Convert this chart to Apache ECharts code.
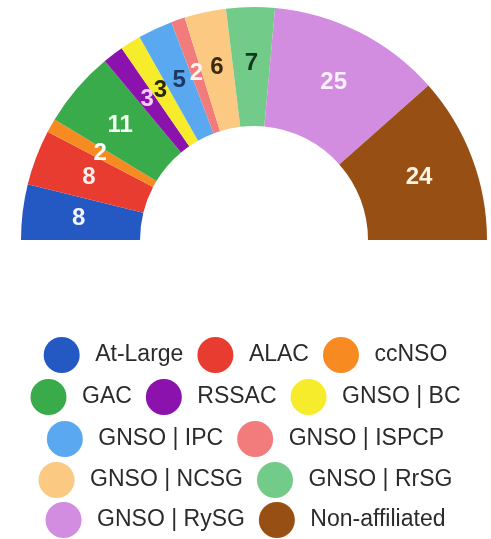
<!DOCTYPE html>
<html>
<head>
<meta charset="utf-8">
<script src="https://cdn.jsdelivr.net/npm/echarts@6/dist/echarts.min.js"></script>
<style>
  html, body { margin: 0; padding: 0; background: #fff; }
  #halfPie { width: 491px; height: 539px; }
</style>
</head>
<body>
<div id="halfPie"></div>
<script>
const groups = ['At-Large', 'ALAC', 'ccNSO', 'GAC', 'RSSAC', 'GNSO | BC', 'GNSO | IPC',
  'GNSO | ISPCP', 'GNSO | NCSG', 'GNSO | RrSG', 'GNSO | RySG', 'Non-affiliated']
const counts = [8, 8, 2, 11, 3, 3, 5, 2, 6, 7, 25, 24]
const colors = ['#2459c4', '#e83c31', '#f78b22', '#3aab4b', '#8b12ad', '#f7ec2c', '#5aa9f0',
  '#f27c7c', '#fcc983', '#72cb89', '#d28de0', '#984f14']
const labelColors = ['#f4f4ff', '#fff0ee', '#ffffff', '#f4fff4', '#f3d0f5', '#2b2a05', '#1b3866',
  '#fff4f4', '#3a2a10', '#123a1c', '#fbf0ff', '#fff3e0']
// rows of the legend as they appear under the chart
const legendRows = [
  ['At-Large', 'ALAC', 'ccNSO'],
  ['GAC', 'RSSAC', 'GNSO | BC'],
  ['GNSO | IPC', 'GNSO | ISPCP'],
  ['GNSO | NCSG', 'GNSO | RrSG'],
  ['GNSO | RySG', 'Non-affiliated']
]

const font = "'Liberation Sans', Arial, sans-serif"
let chartInstance = echarts.init(document.getElementById('halfPie'))

const rowTops = [337, 379, 421, 462, 502]
const legends = legendRows.map((row, i) => ({
  data: row,
  top: rowTops[i],
  left: 'center',
  orient: 'horizontal',
  padding: 0,
  itemGap: 14,
  itemWidth: 37,
  itemHeight: 36,
  icon: 'circle',
  selectedMode: false,
  textStyle: {
    fontFamily: font,
    fontSize: 23,
    color: '#2b2b2b',
    padding: [0, 0, 0, 10]
  }
}))

const option = {
  backgroundColor: '#ffffff',
  color: colors,
  legend: legends,
  series: [
    {
      name: 'Participants',
      type: 'pie',
      center: [254, 240],
      radius: [114, 233],
      startAngle: 180,
      endAngle: 360,
      clockwise: true,
      avoidLabelOverlap: false,
      silent: true,
      itemStyle: { borderWidth: 0 },
      label: {
        show: true,
        position: 'inside',
        formatter: '{c}',
        fontFamily: font,
        fontSize: 24,
        fontWeight: 'bold'
      },
      labelLayout: { hideOverlap: false },
      labelLine: { show: false },
      data: groups.map((g, i) => ({
        name: g,
        value: counts[i],
        label: { color: labelColors[i] }
      }))
    }
  ]
}
chartInstance.setOption(option)
</script>
</body>
</html>
